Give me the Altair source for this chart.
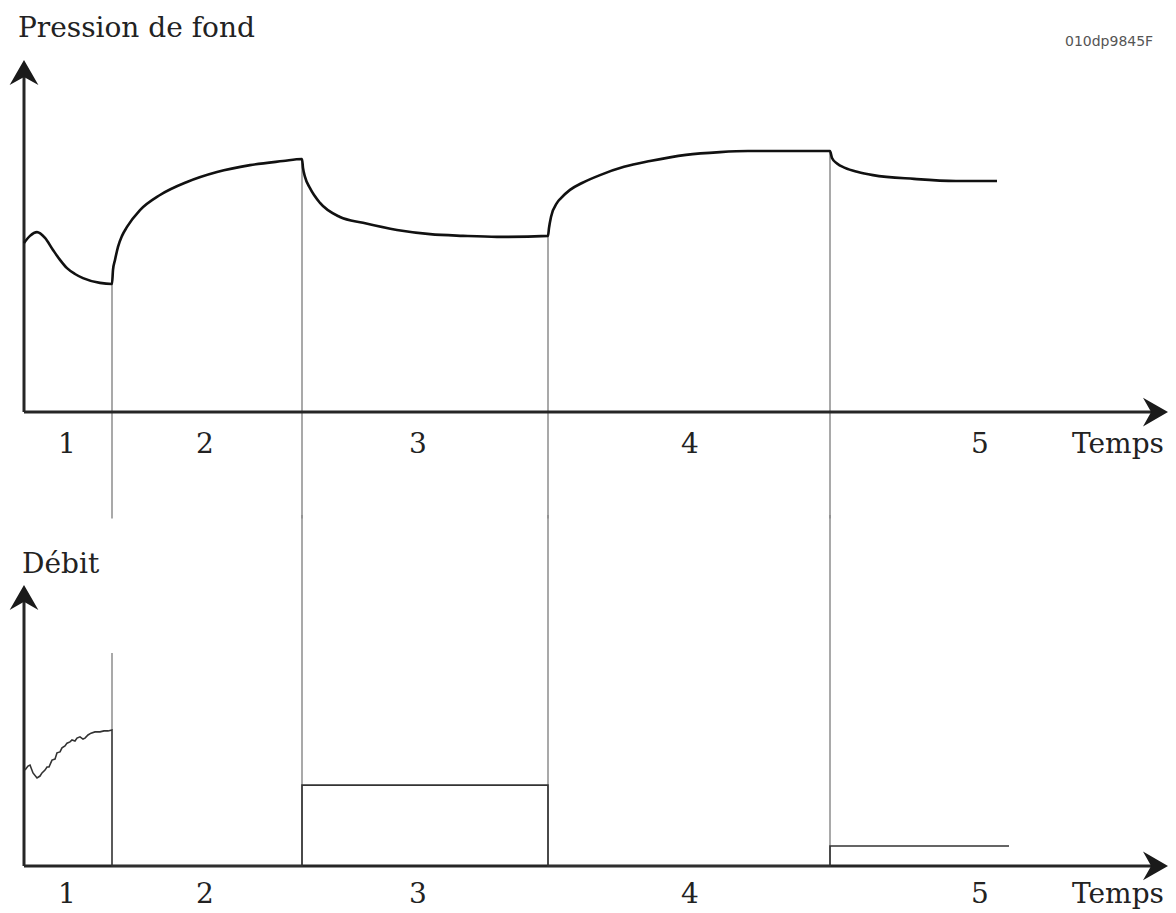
import altair as alt
import pandas as pd

# ---- time axis (arbitrary units), shared by both panels ----
T_MIN, T_MAX = -2.4, 115.2
switch_t = [8.8, 27.8, 52.4, 80.6]          # flow-rate changes between periods

# ---- bottom-hole pressure (top panel) ----
P_MIN, P_MAX = -30, 120
press_t = [0.0, 0.6, 1.3, 2.1, 2.9, 3.6, 4.3, 5.1, 5.9, 7.6, 8.8,
           8.9, 9.1, 9.4, 9.8, 10.3, 11.6, 13.6, 16.3, 19.3, 22.6, 25.9, 27.8,
           27.9, 28.1, 28.6, 29.6, 31.6, 33.9, 37.3, 40.6, 43.9, 47.3, 52.4,
           52.5, 52.7, 53.3, 53.7, 54.6, 55.8, 57.6, 60.0, 62.6, 66.2, 69.6, 72.4, 76.6, 80.6,
           80.8, 81.3, 82.1, 83.4, 84.9, 89.0, 93.2, 97.3]
press_p = [49.2, 51.3, 52.4, 50.7, 47.2, 44.3, 41.9, 40.2, 39.0, 37.6, 37.3,
           41.4, 44.3, 48.1, 51.3, 53.9, 58.8, 63.2, 67.0, 69.9, 71.9, 73.1, 73.7,
           71.1, 68.5, 65.2, 60.9, 56.8, 55.1, 53.0, 51.8, 51.3, 51.0, 51.3,
           53.6, 56.8, 60.9, 62.3, 64.7, 66.7, 69.0, 71.4, 73.1, 74.9, 75.7, 76.0, 76.0, 76.0,
           74.0, 72.4, 71.1, 69.9, 69.0, 67.9, 67.3, 67.3]

# ---- flow rate (bottom panel) ----
Q_MIN, Q_MAX = -15, 112
flow1_t = [0.1, 0.4, 0.6, 0.9, 1.3, 1.6, 1.8, 2.1, 2.3, 2.5, 2.8, 3.1, 3.3, 3.6, 3.8,
           4.1, 4.3, 4.6, 4.8, 5.1, 5.3, 5.6, 5.9, 6.1, 6.4, 6.7, 7.1, 7.6, 8.0, 8.4, 8.8]
flow1_q = [30.6, 31.9, 32.2, 29.7, 28.1, 28.7, 29.7, 30.6, 31.6, 31.6, 33.8, 34.1, 36.1, 36.4, 37.7,
           38.3, 39.2, 39.6, 40.2, 39.9, 40.8, 41.2, 40.5, 40.8, 41.8, 42.4, 42.8, 42.8, 43.1, 43.1, 43.4]
step_t = [8.8, 27.8, 27.8, 52.4, 52.4, 80.6, 80.6, 98.5]
step_q = [0.0, 0.0, 25.8, 25.8, 0.0, 0.0, 6.4, 6.4]

period_labels = ["1", "2", "3", "4", "5"]
period_label_t = [4.3, 18.1, 39.4, 66.6, 95.6]
TEMPS_T = 109.4

SERIF = "DejaVu Serif"
GRID = "#8c8c8c"

xs = alt.Scale(domain=[T_MIN, T_MAX], nice=False, zero=False)
ps = alt.Scale(domain=[P_MIN, P_MAX], nice=False, zero=False)
qs = alt.Scale(domain=[Q_MIN, Q_MAX], nice=False, zero=False)

ARROW_UP = "M0,0 L-1.15,2 L0,1.35 L1.15,2 Z"
ARROW_RIGHT = "M0,0 L-2,-1.15 L-1.35,0 L-2,1.15 Z"


def X(field="t"):
    return alt.X(f"{field}:Q", scale=xs, axis=None)


def panel(scale, axis_end, tip_v, label_v, curve_layers, conn_df, title_text, title_t, title_v):
    Y = lambda f: alt.Y(f"{f}:Q", scale=scale, axis=None)
    # connectors marking the flow-rate changes
    conn = alt.Chart(conn_df).mark_rule(color=GRID, strokeWidth=1.5).encode(
        x=X(), y=Y("v0"), y2="v1:Q")
    # hand-drawn axes with arrow heads
    axes_df = pd.DataFrame({"t": [0.0, 0.0], "t2": [113.0, 0.0], "v0": [0.0, 0.0], "v1": [0.0, axis_end]})
    axes = alt.Chart(axes_df).mark_rule(color="#262626", strokeWidth=3).encode(
        x=X(), x2="t2:Q", y=Y("v0"), y2="v1:Q")
    tip_up = alt.Chart(pd.DataFrame({"t": [0.0], "v": [tip_v]})).mark_point(
        shape=ARROW_UP, filled=True, size=625, color="#1a1a1a", opacity=1, strokeWidth=0
    ).encode(x=X(), y=Y("v"))
    tip_right = alt.Chart(pd.DataFrame({"t": [114.4], "v": [0.0]})).mark_point(
        shape=ARROW_RIGHT, filled=True, size=625, color="#1a1a1a", opacity=1, strokeWidth=0
    ).encode(x=X(), y=Y("v"))
    lab_df = pd.DataFrame({"t": period_label_t + [TEMPS_T],
                           "v": [label_v] * 6,
                           "txt": period_labels + ["Temps"]})
    labels = alt.Chart(lab_df).mark_text(font=SERIF, fontSize=28, color="#222",
                                         baseline="alphabetic", align="center").encode(
        x=X(), y=Y("v"), text="txt:N")
    title = alt.Chart(pd.DataFrame({"t": [title_t], "v": [title_v], "txt": [title_text]})).mark_text(
        font=SERIF, fontSize=28, color="#222", baseline="alphabetic", align="left").encode(
        x=X(), y=Y("v"), text="txt:N")
    return [conn, axes] + curve_layers + [tip_up, tip_right, labels, title]


# ---------------- top panel: pressure ----------------
press_df = pd.DataFrame({"t": press_t, "p": press_p})
sw_p = [press_df.loc[press_df.t == s, "p"].iloc[0] for s in switch_t]
# connectors run on past the panel's lower edge so they join the lower panel's
top_conn = pd.DataFrame({"t": switch_t, "v0": sw_p, "v1": [P_MIN - 1.0] * 4})

press_line = alt.Chart(press_df).mark_line(color="#111", strokeWidth=2.6, interpolate="monotone").encode(
    x=X(), y=alt.Y("p:Q", scale=ps, axis=None))
code_txt = alt.Chart(pd.DataFrame({"t": [104.1], "v": [107.8], "txt": ["010dp9845F"]})).mark_text(
    font="DejaVu Sans", fontSize=14, color="#555", baseline="middle", align="left").encode(
    x=X(), y=alt.Y("v:Q", scale=ps, axis=None), text="txt:N")

top = alt.layer(*panel(ps, 100.0, 102.5, -11.9, [press_line, code_txt], top_conn,
                       "Pression de fond", -0.6, 109.2)).properties(width=1176, height=515)

# ---------------- bottom panel: flow rate ----------------
flow_t = flow1_t + step_t
flow_q = flow1_q + step_q
flow_df = pd.DataFrame({"t": flow_t, "q": flow_q, "i": range(len(flow_t))})
bot_conn = pd.DataFrame({"t": switch_t, "v0": [68.0, Q_MAX, Q_MAX, Q_MAX], "v1": [43.4, 0.0, 0.0, 0.0]})

flow_line = alt.Chart(flow_df).mark_line(color="#333", strokeWidth=1.6).encode(
    x=X(), y=alt.Y("q:Q", scale=qs, axis=None), order="i:Q")

bottom = alt.layer(*panel(qs, 87.0, 89.7, -11.8, [flow_line], bot_conn,
                          "Débit", -0.2, 93.5)).properties(width=1176, height=398)

chart = alt.vconcat(top, bottom, spacing=0, bounds="flush").properties(
    padding=0, background="white").configure_view(stroke=None)

chart.save("out.html", embed_options={"renderer": "svg", "actions": False})
